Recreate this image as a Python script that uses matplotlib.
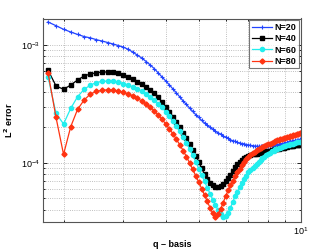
import numpy as np
import matplotlib
matplotlib.use("Agg")
import matplotlib.pyplot as plt

q = [round(1.8 + 0.1 * i, 1) for i in range(83)]

err_n20 = [1.57e-3, 1.46e-3, 1.36e-3, 1.29e-3, 1.23e-3, 1.18e-3, 1.15e-3, 1.11e-3, 1.08e-3, 1.05e-3,
           1.02e-3, 9.9e-4, 9.6e-4, 9.2e-4, 8.7e-4, 8.2e-4, 7.75e-4, 7.25e-4, 6.77e-4, 6.3e-4,
           5.8e-4, 5.35e-4, 4.95e-4, 4.58e-4, 4.23e-4, 3.92e-4, 3.62e-4, 3.35e-4, 3.13e-4, 2.92e-4,
           2.73e-4, 2.57e-4, 2.43e-4, 2.29e-4, 2.18e-4, 2.08e-4, 2.0e-4, 1.93e-4, 1.85e-4, 1.8e-4,
           1.75e-4, 1.69e-4, 1.65e-4, 1.61e-4, 1.57e-4, 1.54e-4, 1.52e-4, 1.49e-4, 1.47e-4, 1.46e-4,
           1.45e-4, 1.43e-4, 1.42e-4, 1.41e-4, 1.40e-4, 1.39e-4, 1.385e-4, 1.38e-4, 1.378e-4, 1.378e-4,
           1.38e-4, 1.383e-4, 1.387e-4, 1.39e-4, 1.40e-4, 1.41e-4, 1.42e-4, 1.43e-4, 1.44e-4, 1.45e-4,
           1.46e-4, 1.47e-4, 1.48e-4, 1.49e-4, 1.51e-4, 1.52e-4, 1.53e-4, 1.54e-4, 1.55e-4, 1.56e-4,
           1.57e-4, 1.58e-4, 1.59e-4]

err_n40 = [6.14e-4, 4.5e-4, 4.21e-4, 4.58e-4, 5.05e-4, 5.47e-4, 5.68e-4, 5.82e-4, 5.9e-4, 5.9e-4,
           5.85e-4, 5.74e-4, 5.57e-4, 5.35e-4, 5.13e-4, 4.9e-4, 4.67e-4, 4.4e-4, 4.15e-4, 3.89e-4,
           3.6e-4, 3.29e-4, 2.98e-4, 2.7e-4, 2.46e-4, 2.22e-4, 2.0e-4, 1.8e-4, 1.62e-4, 1.45e-4,
           1.29e-4, 1.15e-4, 1.02e-4, 9.0e-5, 8.0e-5, 7.3e-5, 6.8e-5, 6.5e-5, 6.3e-5, 6.2e-5,
           6.4e-5, 6.64e-5, 6.97e-5, 7.46e-5, 7.91e-5, 8.55e-5, 9.16e-5, 9.71e-5, 1.02e-4, 1.06e-4,
           1.09e-4, 1.12e-4, 1.14e-4, 1.16e-4, 1.18e-4, 1.19e-4, 1.20e-4, 1.21e-4, 1.22e-4, 1.23e-4,
           1.24e-4, 1.25e-4, 1.26e-4, 1.27e-4, 1.28e-4, 1.29e-4, 1.30e-4, 1.31e-4, 1.32e-4, 1.33e-4,
           1.34e-4, 1.35e-4, 1.36e-4, 1.37e-4, 1.38e-4, 1.39e-4, 1.39e-4, 1.40e-4, 1.41e-4, 1.42e-4,
           1.42e-4, 1.43e-4, 1.44e-4]

err_n60 = [5.39e-4, 2.63e-4, 2.14e-4, 2.9e-4, 3.65e-4, 4.21e-4, 4.58e-4, 4.8e-4, 4.92e-4, 4.95e-4,
           4.92e-4, 4.85e-4, 4.71e-4, 4.58e-4, 4.4e-4, 4.23e-4, 4.04e-4, 3.84e-4, 3.62e-4, 3.42e-4,
           3.19e-4, 2.96e-4, 2.7e-4, 2.48e-4, 2.27e-4, 2.06e-4, 1.85e-4, 1.66e-4, 1.48e-4, 1.31e-4,
           1.16e-4, 1.02e-4, 8.95e-5, 7.9e-5, 6.97e-5, 6.15e-5, 5.47e-5, 4.87e-5, 4.38e-5, 3.98e-5,
           3.68e-5, 3.5e-5, 3.54e-5, 3.78e-5, 4.17e-5, 4.68e-5, 5.2e-5, 5.7e-5, 6.25e-5, 6.8e-5,
           7.3e-5, 7.8e-5, 8.3e-5, 8.7e-5, 9.0e-5, 9.4e-5, 9.8e-5, 1.02e-4, 1.06e-4, 1.10e-4,
           1.13e-4, 1.16e-4, 1.19e-4, 1.22e-4, 1.25e-4, 1.27e-4, 1.30e-4, 1.32e-4, 1.33e-4, 1.35e-4,
           1.37e-4, 1.39e-4, 1.40e-4, 1.41e-4, 1.43e-4, 1.44e-4, 1.45e-4, 1.46e-4, 1.48e-4, 1.49e-4,
           1.49e-4, 1.50e-4, 1.51e-4]

err_n80 = [5.83e-4, 2.44e-4, 1.18e-4, 2.03e-4, 2.85e-4, 3.42e-4, 3.84e-4, 4.04e-4, 4.14e-4, 4.16e-4,
           4.14e-4, 4.08e-4, 3.96e-4, 3.84e-4, 3.7e-4, 3.52e-4, 3.35e-4, 3.16e-4, 2.96e-4, 2.76e-4,
           2.55e-4, 2.34e-4, 2.14e-4, 1.94e-4, 1.76e-4, 1.58e-4, 1.42e-4, 1.27e-4, 1.13e-4, 1.0e-4,
           8.8e-5, 7.77e-5, 6.85e-5, 6.05e-5, 5.33e-5, 4.7e-5, 4.15e-5, 3.73e-5, 3.48e-5, 3.65e-5,
           4.05e-5, 4.6e-5, 5.2e-5, 5.85e-5, 6.45e-5, 7.05e-5, 7.7e-5, 8.3e-5, 8.95e-5, 9.6e-5,
           1.02e-4, 1.07e-4, 1.12e-4, 1.17e-4, 1.21e-4, 1.24e-4, 1.28e-4, 1.31e-4, 1.34e-4, 1.37e-4,
           1.39e-4, 1.42e-4, 1.44e-4, 1.46e-4, 1.48e-4, 1.50e-4, 1.53e-4, 1.55e-4, 1.56e-4, 1.58e-4,
           1.60e-4, 1.62e-4, 1.64e-4, 1.65e-4, 1.67e-4, 1.69e-4, 1.70e-4, 1.72e-4, 1.73e-4, 1.75e-4,
           1.76e-4, 1.78e-4, 1.79e-4]

labels = ["N=20", "N=40", "N=60", "N=80"]

plt.rcParams['font.family'] = ['Liberation Sans', 'DejaVu Sans']
plt.rcParams['mathtext.default'] = 'bf'
fig = plt.figure(figsize=(3.32, 2.5), dpi=100)
ax = fig.add_axes([43/332, 1-222.3/250, (301-43)/332, (222.3-18.5)/250])

ax.plot(q, err_n20, color='#2244ff', marker='+', ms=3.0, mew=0.8, lw=0.9, label=labels[0])
ax.plot(q, err_n40, color='black', marker='s', ms=2.6, lw=0.9, label=labels[1])
ax.plot(q, err_n60, color='#22eeee', marker='o', ms=3.0, lw=0.9, label=labels[2])
ax.plot(q, err_n80, color='#ff3311', marker='D', ms=2.6, lw=0.9, label=labels[3])

ax.set_xscale('log')
ax.set_yscale('log')
ax.set_xlim(1.74, 10)
ax.set_ylim(3.13e-5, 1.68e-3)

ax.grid(True, which='both', linestyle=':', color='#aaaaaa', linewidth=0.6)
ax.set_axisbelow(True)
ax.tick_params(which='both', direction='in', top=True, right=True, labelsize=6.5, width=0.6)
ax.tick_params(which='major', length=3, pad=2)
ax.tick_params(which='minor', length=1.5)
ax.xaxis.set_minor_formatter(matplotlib.ticker.NullFormatter())
ax.yaxis.set_minor_formatter(matplotlib.ticker.NullFormatter())
for s in ax.spines.values():
    s.set_color('#555555')
    s.set_linewidth(0.8)

ax.set_xlabel('q \u2013 basis', fontsize=6.5, fontweight='bold', labelpad=2)
ax.set_ylabel('L$^2$ error', fontsize=6.5, fontweight='bold', labelpad=4)

leg = ax.legend(loc='upper right', prop={'weight': 'bold', 'size': 6.5},
                frameon=True, fancybox=False, edgecolor='#555555', borderpad=0.3,
                handlelength=2.2, handletextpad=0.3, labelspacing=0.25,
                borderaxespad=0.2)
leg.get_frame().set_linewidth(0.8)

fig.savefig('out.png', dpi=100)
